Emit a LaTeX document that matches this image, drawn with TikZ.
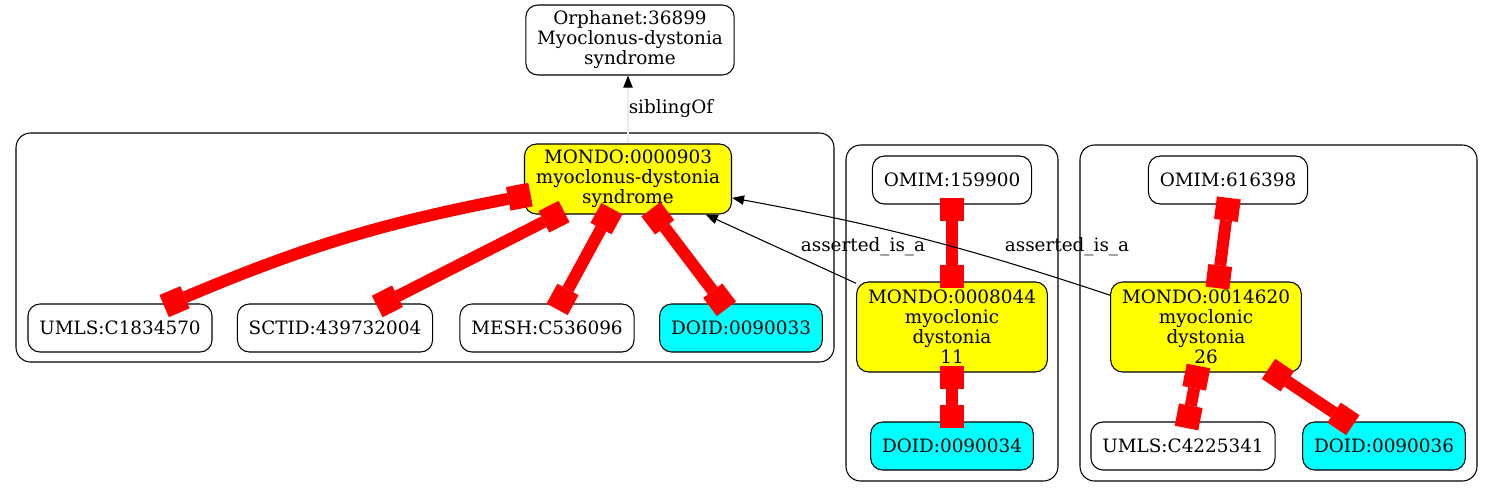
\documentclass[tikz,border=0pt]{standalone}
\usepackage{fontspec}
\setmainfont{DejaVu Serif}
\usetikzlibrary{arrows.meta}

\definecolor{mondofill}{RGB}{255,255,0}
\definecolor{doidfill}{RGB}{0,255,255}
\definecolor{xrefred}{RGB}{255,0,0}

\tikzset{
  term/.style={draw, rounded corners=9pt, line width=0.8pt, inner xsep=8.5pt,
    minimum height=36pt, align=center, font=\fontsize{13.8}{15}\selectfont},
  mondo/.style={term, fill=mondofill},
  doid/.style={term, fill=doidfill},
  cluster/.style={draw, rounded corners=11pt, line width=0.8pt},
  xbox/.tip={Square[length=17pt,width=18pt,line width=0pt]},
  xref/.style={xrefred, line width=9pt, xbox-xbox, shorten <=-5pt, shorten >=-5pt},
  isa/.style={line width=0.8pt, -{Triangle[length=9pt,width=7pt]}},
  sibling/.style={draw=black!8, line width=0.8pt, -{Triangle[length=9pt,width=7pt,color=black]}},
  elabel/.style={font=\fontsize{13.8}{15}\selectfont, inner sep=0pt}
}

\begin{document}
\begin{tikzpicture}[x=0.75pt, y=-0.75pt]
\useasboundingbox (0,0) rectangle (1493,497);
%\draw [lightgray](0,0) grid[step=50] (1493,497);

% clusters
\draw [cluster](16,133) rectangle (834,362);
\draw [cluster](846,145) rectangle (1058,481);
\draw [cluster](1080,145) rectangle (1477,481);

\node [term, minimum height=52.5pt] (orpha) at (630,40) {Orphanet:36899\\Myoclonus-dystonia\\syndrome};

\node [mondo, minimum height=52.5pt] (m903) at (628,179) {MONDO:0000903\\myoclonus-dystonia\\syndrome};
\node [term] (umls1) at (120,328) {UMLS:C1834570};
\node [term] (sctid) at (335,328) {SCTID:439732004};
\node [term] (mesh) at (547,328) {MESH:C536096};
\node [doid] (doid33) at (741,328) {DOID:0090033};

\node [term] (omim1) at (952,180) {OMIM:159900};
\node [mondo, minimum height=67.5pt] (m8044) at (952,327) {MONDO:0008044\\myoclonic\\dystonia\\11};
\node [doid] (doid34) at (952,446) {DOID:0090034};

\node [term] (omim2) at (1228,180) {OMIM:616398};
\node [mondo, minimum height=67.5pt] (m14620) at (1206,327) {MONDO:0014620\\myoclonic\\dystonia\\26};
\node [term] (umls2) at (1183,446) {UMLS:C4225341};
\node [doid] (doid36) at (1384,446) {DOID:0090036};

% edges
\draw [sibling](m903.north) -- (m903.north |- orpha.south);
\node [elabel] (lsib) at (671,109) {siblingOf};

\draw [xref](m903) to[bend right=6] (umls1.26);
\draw [xref](m903) -- (sctid);
\draw [xref](m903) -- (mesh);
\draw [xref](m903) -- (doid33);

\draw [xref](omim1) -- (m8044);
\draw [xref](m8044) -- (doid34);

\draw [xref](omim2.south) -- (m14620.75);
\draw [xref](m14620) -- (umls2);
\draw [xref](m14620) -- (doid36);

\draw [isa](m8044) -- (m903);
\node [elabel] (lisa1) at (863,247) {asserted\_is\_a};
\draw [isa](m14620) to[bend right=4] (m903);
\node [elabel] (lisa2) at (1067,247) {asserted\_is\_a};
\end{tikzpicture}
\end{document}
